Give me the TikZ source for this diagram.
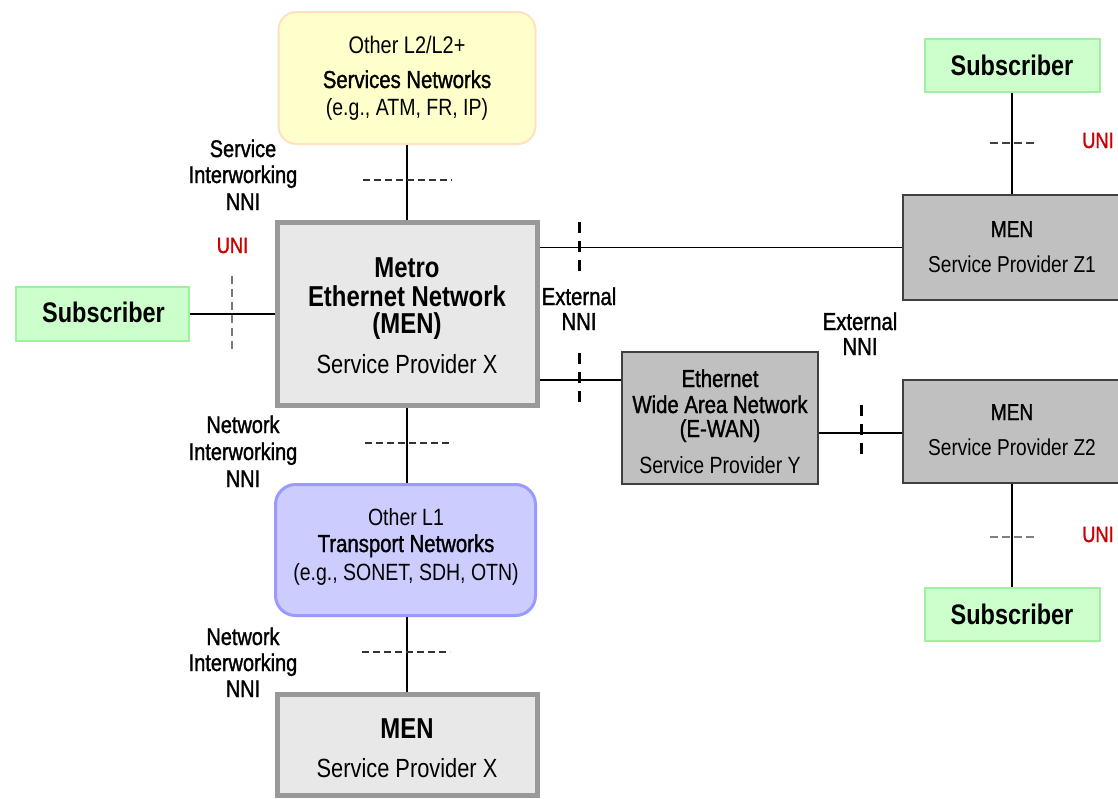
\documentclass[tikz,border=0pt]{standalone}
\usepackage{fontspec}
\setmainfont[FakeStretch=0.83]{Liberation Sans}
\newfontfamily\semifont[FakeStretch=0.83,FakeBold=1.3]{Liberation Sans}
\definecolor{subfill}{HTML}{CCFFCC}
\definecolor{subline}{HTML}{A0F0A0}
\definecolor{yelfill}{HTML}{FFFFCC}
\definecolor{yelline}{HTML}{FFE0C0}
\definecolor{bluefill}{HTML}{CCCCFF}
\definecolor{blueline}{HTML}{9999FF}
\definecolor{menfill}{HTML}{E8E8E8}
\definecolor{menline}{HTML}{999999}
\definecolor{grayfill}{HTML}{C0C0C0}
\definecolor{grayline}{HTML}{404040}
\definecolor{unired}{HTML}{CC0000}
\tikzset{
  conn/.style={line width=1.5pt, black},
  boxbase/.style={rectangle, inner sep=0pt},
  subbox/.style={boxbase, fill=subfill, draw=subline, line width=1.5pt},
  yelbox/.style={boxbase, fill=yelfill, draw=yelline, line width=2pt, rounded corners=18pt},
  bluebox/.style={boxbase, fill=bluefill, draw=blueline, line width=3pt, rounded corners=20pt},
  menbox/.style={boxbase, fill=menfill, draw=menline, line width=5pt},
  graybox/.style={boxbase, fill=grayfill, draw=grayline, line width=2pt},
  tR/.style={anchor=base, inner sep=0pt, font=\fontsize{#1}{#1}\selectfont},
  tB/.style={anchor=base, inner sep=0pt, font=\fontsize{#1}{#1}\selectfont\bfseries},
  tS/.style={anchor=base, inner sep=0pt, font=\fontsize{#1}{#1}\semifont},
  hcut/.style={line width=2.2pt, draw=black!80, dash pattern=on 7pt off 4pt},
  uniL/.style={line width=2.5pt, draw=black!53, dash pattern=on 8pt off 5pt},
  extcut/.style={line width=3pt, draw=black, dash pattern=on 11pt off 8pt},
  unicut/.style={line width=2.5pt, dash pattern=on 8pt off 4pt},
}
\begin{document}
\begin{tikzpicture}[x=1pt,y=-1pt]
\useasboundingbox (0,0) rectangle (1118,798);

% ---- boxes ----
\node[yelbox, minimum width=257pt, minimum height=132pt] (yel) at (407,78) {};
\node[menbox, minimum width=260pt, minimum height=183pt] (menx) at (407,314) {};
\node[subbox, minimum width=173pt, minimum height=54pt] (subL) at (102.5,314) {};
\node[graybox, minimum width=218pt, minimum height=105pt] (z1) at (1012,247.5) {};
\node[graybox, minimum width=218pt, minimum height=103pt] (z2) at (1012,431.5) {};
\node[graybox, minimum width=196pt, minimum height=132pt] (ewan) at (720,418) {};
\node[subbox, minimum width=175pt, minimum height=53pt] (subT) at (1012.5,65.5) {};
\node[subbox, minimum width=175pt, minimum height=53pt] (subB) at (1012.5,614.5) {};
\node[bluebox, minimum width=260pt, minimum height=131pt] (blue) at (405.5,550) {};
\node[menbox, minimum width=260pt, minimum height=100.5pt] (menb) at (407,744.75) {};

% ---- helper coordinates ----
\coordinate (l1) at (0,247.5);
\coordinate (l2) at (0,380);
\coordinate (l3) at (0,433);

% ---- connectors ----
\draw[conn] (menx.north) -- (menx.north |- yel.south);
\draw[conn] (subL.east) -- (subL.east -| menx.west);
\draw[conn] (menx.east |- l1) -- (z1.west |- l1);
\draw[conn] (menx.east |- l2) -- (ewan.west |- l2);
\draw[conn] (ewan.east |- l3) -- (z2.west |- l3);
\draw[conn] (z1.north) -- (z1.north |- subT.south);
\draw[conn] (z2.south) -- (z2.south |- subB.north);
\draw[conn] (menx.south) -- (menx.south |- blue.north);
\draw[conn] (menx.south |- blue.south) -- (menx.south |- menb.north);

% ---- interface marks ----
\draw[hcut] (363,180) -- (452,180);
\draw[uniL] (232,276) -- (232,353);
\draw[extcut] (579,222) -- (579,273);
\draw[extcut] (579,353) -- (579,405);
\draw[extcut] (861,405) -- (861,457);
\draw[unicut, draw=black!75] (990,143) -- (1035,143);
\draw[unicut, draw=black!50] (990,537) -- (1035,537);
\draw[hcut] (365,443) -- (453,443);
\draw[hcut] (362,652) -- (450,652);

% ---- texts in boxes ----
\node[tR=24] (yel1) at (407,53) {Other L2/L2+};
\node[tS=24.5] (yel2) at (407,88) {Services Networks};
\node[tR=23.5] (yel3) at (407,115) {(e.g., ATM, FR, IP)};

\node[tB=28.8] (menx1) at (407,277) {Metro};
\node[tB=28.8] (menx2) at (407,306) {Ethernet Network};
\node[tB=28.8] (menx3) at (407,333) {(MEN)};
\node[tR=26.3] (menx4) at (407,373) {Service Provider X};

\node[tB=28.3] (subLt) at (103.5,322) {Subscriber};
\node[tB=28.3] (subTt) at (1012,75) {Subscriber};
\node[tB=28.3] (subBt) at (1012,624) {Subscriber};

\node[tS=23] (z1a) at (1012,237) {MEN};
\node[tR=23] (z1b) at (1012,272) {Service Provider Z1};
\node[tS=23] (z2a) at (1012,420) {MEN};
\node[tR=23] (z2b) at (1012,455) {Service Provider Z2};

\node[tS=24.5] (ew1) at (720,387) {Ethernet};
\node[tS=24.5] (ew2) at (720,413) {Wide Area Network};
\node[tS=24.5] (ew3) at (720,437) {(E-WAN)};
\node[tR=23.5] (ew4) at (720,473) {Service Provider Y};

\node[tR=23.5] (bl1) at (406,525) {Other L1};
\node[tS=24.5] (bl2) at (406,552) {Transport Networks};
\node[tR=23.5] (bl3) at (406,580) {(e.g., SONET, SDH, OTN)};

\node[tB=28.8] (menb1) at (407,738) {MEN};
\node[tR=26.3] (menb2) at (407,777) {Service Provider X};

% ---- interface labels ----
\node[tS=24] (si1) at (243,157) {Service};
\node[tS=24] (si2) at (243,183) {Interworking};
\node[tS=24] (si3) at (243,210) {NNI};

\node[tS=22, text=unired] (uniA) at (232.5,253) {UNI};
\node[tS=22, text=unired] (uniB) at (1098,148) {UNI};
\node[tS=22, text=unired] (uniC) at (1098,542) {UNI};

\node[tS=24.5] (ex1) at (579,305) {External};
\node[tS=24.5] (ex2) at (579,330) {NNI};
\node[tS=24.5] (ex3) at (860,330) {External};
\node[tS=24.5] (ex4) at (860,355) {NNI};

\node[tS=24] (ni1) at (243,433) {Network};
\node[tS=24] (ni2) at (243,460) {Interworking};
\node[tS=24] (ni3) at (243,487) {NNI};
\node[tS=24] (ni4) at (243,645) {Network};
\node[tS=24] (ni5) at (243,671) {Interworking};
\node[tS=24] (ni6) at (243,697) {NNI};
\end{tikzpicture}
\end{document}
